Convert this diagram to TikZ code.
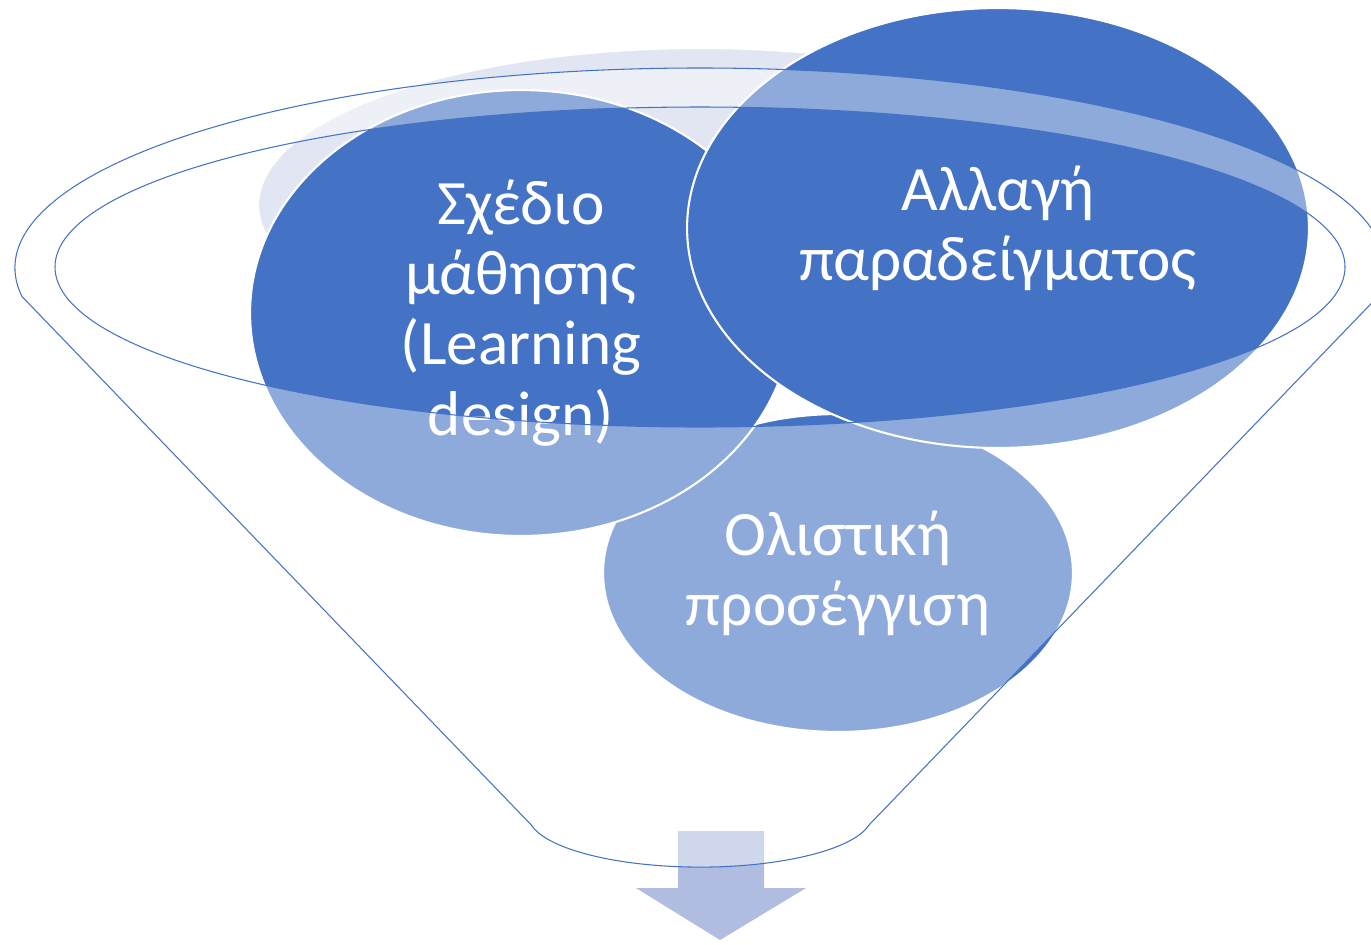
\documentclass[tikz,border=0pt]{standalone}
\usepackage{fontspec}
\setmainfont{Carlito}
\usetikzlibrary{shapes.geometric}
\definecolor{mainblue}{RGB}{68,114,196}
\definecolor{paleblue}{RGB}{226,230,243}
\definecolor{arrowblue}{RGB}{176,189,224}

\begin{document}
\begin{tikzpicture}[x=0.02cm,y=-0.02cm,
  bubble/.style={ellipse,draw=white,line width=1.2pt,fill=mainblue,inner sep=0pt,
    text=white,align=center,font=\fontsize{36}{40}\selectfont},
  funnel/.style={draw=mainblue,line width=0.6pt,fill=white,fill opacity=0.4,even odd rule}]
 \useasboundingbox (0,0) rectangle (1371,944);
 \node[bubble,fill=paleblue,minimum width=17.68cm,minimum height=6.28cm] (blank) at (700,205) {};
 \node[bubble,minimum width=9.4cm,minimum height=6.36cm] (holistic) at (838,573) {Ολιστική\\προσέγγιση};
 \node[bubble,minimum width=10.84cm,minimum height=8.92cm] (design) at (521,313) {Σχέδιο\\μάθησης\\(Learning\\design)};
 \node[bubble,minimum width=12.44cm,minimum height=8.8cm] (paradigm) at (998,228) {Αλλαγή\\παραδείγματος};
 % arrow under the funnel
 \fill[arrowblue] (678,831) -- (764,831) -- (764,888) -- (806,888) -- (720,940) -- (636,888) -- (678,888) -- cycle;
 % funnel: rim, sides and spout
 \draw[funnel] (22,296.5) arc[start angle=171.8,end angle=368.2,x radius=685,y radius=200]
   -- (869,825) arc[start angle=11,end angle=169,x radius=172,y radius=52] -- cycle
   (700,267) ellipse [x radius=645,y radius=160];
\end{tikzpicture}
\end{document}
